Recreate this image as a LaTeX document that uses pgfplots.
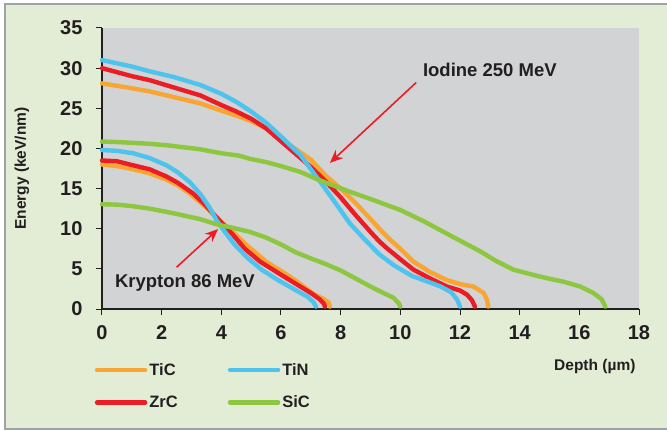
\documentclass[border=0pt]{standalone}
\usepackage{fontspec}
\setmainfont{Liberation Sans}
\usepackage{pgfplots}
\pgfplotsset{compat=1.18}
\usetikzlibrary{arrows.meta}

\definecolor{bggreen}{HTML}{E3EDD6}
\definecolor{framegray}{HTML}{9DA3A6}
\definecolor{plotgray}{HTML}{D1D3D4}
\definecolor{textdark}{HTML}{231F20}
\definecolor{cTiC}{HTML}{F9A534}
\definecolor{cZrC}{HTML}{EC1C24}
\definecolor{cTiN}{HTML}{4EC3EE}
\definecolor{cSiC}{HTML}{8DC63F}

\begin{document}
\begin{tikzpicture}
% panel: white page, pale green box with grey frame (open on the right)
\fill[white] (-102pt,-122pt) rectangle (565pt,309pt);
\fill[bggreen] (-97pt,-120pt) rectangle (565pt,305pt);
\draw[framegray, line width=2pt] (565pt,305pt) -- (-97pt,305pt) -- (-97pt,-120pt) -- (565pt,-120pt);
\begin{axis}[
  scale only axis,
  width=537pt, height=281pt,
  xmin=0, xmax=18, ymin=0, ymax=35,
  xtick={0,2,...,18}, ytick={0,5,...,35},
  axis x line=bottom, axis y line=left,
  axis line style={-, line width=1.2pt, color=textdark},
  tick style={line width=1pt, color=textdark},
  tick align=outside, major tick length=6pt,
  axis background/.style={fill=plotgray},
  clip=false,
  /pgf/number format/assume math mode=true,
  ticklabel style={font=\fontsize{20}{23}\selectfont\bfseries, text=textdark},
  yticklabel style={xshift=-10pt},
  xticklabel style={yshift=-7pt},
  xlabel={Depth (µm)},
  ylabel={Energy (keV/nm)},
  label style={font=\fontsize{15.5}{18}\selectfont\bfseries, text=textdark},
  xlabel style={at={(axis description cs:1,-0.206)}, anchor=east},
  ylabel style={at={(axis description cs:-0.149,0.5)}, anchor=center},
  every axis plot/.append style={line width=4.4pt, line join=round, line cap=round},
  legend image code/.code={\draw[#1, line width=4.5pt] (0pt,0pt) -- (48pt,0pt);},
  legend columns=2,
  legend cell align=left,
  legend style={at={(axis description cs:-0.0136,-0.185)}, anchor=north west,
    draw=none, fill=none, inner sep=0pt, row sep=15pt,
    font=\fontsize{16.5}{19}\selectfont\bfseries, text=textdark,
    /tikz/every even column/.append style={column sep=48pt}},
]
\addlegendimage{color=cTiC}\addlegendentry{TiC}
\addlegendimage{color=cTiN}\addlegendentry{TiN}
\addlegendimage{color=cZrC}\addlegendentry{ZrC}
\addlegendimage{color=cSiC}\addlegendentry{SiC}

% Iodine 250 MeV
\addplot[cTiC, forget plot] coordinates {
 (0,28.1) (0.5,27.8) (1,27.5) (1.6,27.1) (2.4,26.4) (3.3,25.6) (4,24.7) (4.5,24.1)
 (5,23.4) (5.5,22.5) (6,21.2) (6.5,19.9) (7,18.6) (7.5,16.6) (8,15.0) (8.5,13.2)
 (9,11.2) (9.4,9.6) (9.7,8.5) (10,7.5) (10.44,5.9) (11,4.6) (11.56,3.6) (12,3.1)
 (12.45,2.8) (12.79,2.0) (12.9,1.2) (12.95,0.3)};
\addplot[cZrC, forget plot] coordinates {
 (0,30.0) (0.5,29.5) (1,29.0) (1.6,28.5) (2.4,27.6) (3.3,26.6) (4,25.4) (4.5,24.6)
 (5,23.7) (5.5,22.5) (6,20.9) (6.5,19.3) (7,17.7) (7.5,15.9) (8,13.9) (8.5,11.7)
 (9,9.6) (9.3,8.4) (9.54,7.6) (10,6.2) (10.44,4.9) (11,3.8) (11.56,2.8) (12,2.3)
 (12.23,1.8) (12.4,1.1) (12.5,0.3)};
\addplot[cTiN, forget plot] coordinates {
 (0,31.0) (0.5,30.6) (1,30.2) (1.6,29.6) (2.4,28.9) (3.3,27.9) (4,26.8) (4.5,25.8)
 (5,24.6) (5.5,23.2) (6,21.5) (6.5,19.7) (6.65,19.2) (7,17.4) (7.4,15.4) (7.75,13.6)
 (8.3,10.7) (8.82,8.6) (9.3,6.8) (9.8,5.4) (10.4,4.1) (11,3.3) (11.35,2.8) (11.7,2.1)
 (11.9,1.2) (12.0,0.3)};
\addplot[cSiC, forget plot] coordinates {
 (0,20.85) (0.5,20.8) (1,20.7) (1.5,20.6) (2.16,20.4) (3.28,19.9) (4,19.4) (4.6,19.1)
 (4.96,18.7) (5.5,18.3) (6,17.8) (6.63,17.1) (7.19,16.2) (7.6,15.6) (8.31,14.6) (9,13.7)
 (9.99,12.35) (10.8,10.9) (11.6,9.3) (12.67,7.2) (13.2,6.0) (13.79,4.9) (14.4,4.3)
 (14.9,3.85) (15.47,3.4) (16.03,2.8) (16.47,2.0) (16.75,1.2) (16.87,0.3)};

% Krypton 86 MeV
\addplot[cTiC, forget plot] coordinates {
 (0,18.0) (0.5,17.8) (1.04,17.4) (1.6,16.9) (2.16,16.1) (2.55,15.4) (2.94,14.4) (3.45,12.8)
 (3.8,11.5) (4.23,10.1) (4.9,7.8) (5.5,5.9) (6.02,4.7) (6.47,3.6) (7.08,1.9) (7.4,1.3)
 (7.6,0.8) (7.64,0.3)};
\addplot[cZrC, forget plot] coordinates {
 (0,18.5) (0.5,18.4) (1.04,17.9) (1.6,17.4) (2.16,16.5) (2.55,15.7) (3.05,14.4) (3.45,13.0)
 (3.72,11.9) (4.12,10.3) (4.4,9.2) (4.79,7.5) (5.3,5.9) (5.9,4.5) (6.47,3.2) (7.0,2.0)
 (7.3,1.2) (7.45,0.6) (7.47,0.3)};
\addplot[cTiN, forget plot] coordinates {
 (0,19.8) (0.5,19.7) (1.04,19.4) (1.6,18.8) (2.16,17.9) (2.55,17.0) (2.94,15.8) (3.3,14.3)
 (3.61,12.6) (3.85,11.0) (4.1,9.7) (4.45,8.0) (4.9,6.3) (5.35,4.9) (5.9,3.6) (6.47,2.4)
 (6.9,1.5) (7.1,0.8) (7.17,0.3)};
\addplot[cSiC, forget plot] coordinates {
 (0,13.05) (0.5,13.0) (1.04,12.8) (1.6,12.5) (2.16,12.1) (2.55,11.8) (3.28,11.2) (3.89,10.5)
 (4.4,10.1) (4.96,9.6) (5.5,8.9) (6.02,8.0) (6.47,7.1) (7.0,6.3) (7.5,5.6) (8.0,4.8)
 (8.5,3.8) (9.0,2.8) (9.32,2.2) (9.77,1.4) (9.95,0.7) (10.0,0.3)};

% annotations
\node[font=\fontsize{18.5}{21}\selectfont\bfseries, text=textdark] at (axis cs:13.0,29.8) {Iodine 250 MeV};
\node[font=\fontsize{18.5}{21}\selectfont\bfseries, text=textdark] at (axis cs:2.78,3.3) {Krypton 86 MeV};
\draw[cZrC, line width=1.6pt, -{Stealth[length=13pt,width=11pt]}] (axis cs:10.53,28.2) -- (axis cs:7.64,18.2);
\draw[cZrC, line width=1.6pt, -{Stealth[length=13pt,width=11pt]}] (axis cs:2.5,5.2) -- (axis cs:3.89,9.95);
\end{axis}
\pgfresetboundingbox
\useasboundingbox (-102pt,-122pt) rectangle (565pt,309pt);
\end{tikzpicture}
\end{document}
